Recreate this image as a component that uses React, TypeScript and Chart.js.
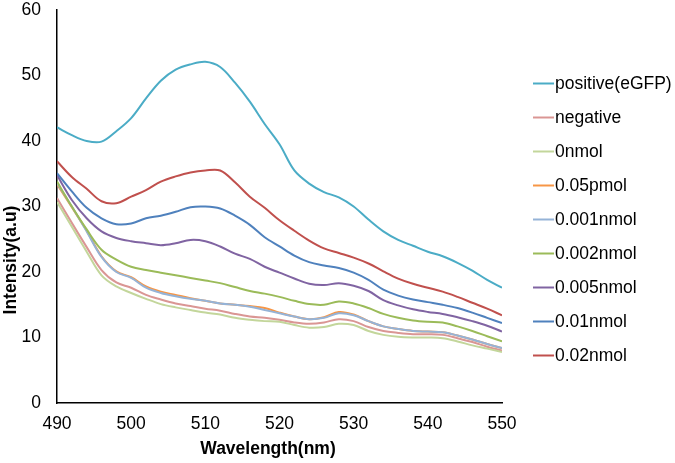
import React, { useEffect, useRef } from "react";
import { Chart, registerables } from "chart.js";

Chart.register(...registerables);

const wavelengths = [490, 492, 494, 496, 498, 500, 502, 504, 506, 508, 510, 512, 514, 516, 518, 520, 522, 524, 526, 528, 530, 532, 534, 536, 538, 540, 542, 544, 546, 548, 550];

const positive = [42.1, 40.9, 40.0, 39.9, 41.5, 43.5, 46.5, 49.2, 50.9, 51.7, 52.1, 51.3, 48.9, 46.0, 42.6, 39.5, 35.5, 33.5, 32.2, 31.4, 30.0, 28.0, 26.2, 24.9, 24.0, 23.1, 22.4, 21.4, 20.2, 18.8, 17.6];
const negative = [31.3, 27.5, 23.8, 20.3, 18.4, 17.6, 16.5, 15.8, 15.2, 14.8, 14.4, 14.1, 13.6, 13.2, 13.0, 12.7, 12.3, 12.1, 12.3, 12.8, 12.5, 11.6, 11.0, 10.7, 10.5, 10.5, 10.4, 9.9, 9.3, 8.6, 8.0];
const nmol0 = [30.7, 26.9, 23.1, 19.5, 17.8, 16.8, 15.9, 15.1, 14.6, 14.2, 13.8, 13.5, 13.0, 12.7, 12.5, 12.4, 11.9, 11.5, 11.6, 12.1, 11.9, 11.0, 10.4, 10.1, 10.0, 10.0, 9.9, 9.4, 8.8, 8.3, 7.8];
const pmol005 = [33.4, 29.9, 26.3, 22.4, 20.1, 19.2, 17.8, 17.0, 16.5, 16.0, 15.6, 15.2, 15.0, 14.8, 14.5, 13.8, 13.2, 12.8, 13.1, 13.9, 13.5, 12.5, 11.7, 11.3, 11.0, 10.9, 10.8, 10.3, 9.7, 9.0, 8.4];
const nmol0001 = [33.6, 30.0, 26.2, 22.3, 20.0, 19.1, 17.6, 16.8, 16.3, 15.9, 15.6, 15.2, 15.0, 14.7, 14.2, 13.7, 13.2, 12.8, 13.0, 13.7, 13.4, 12.5, 11.7, 11.3, 11.0, 10.9, 10.8, 10.3, 9.7, 9.0, 8.4];
const nmol0002 = [33.8, 30.0, 26.5, 23.4, 21.9, 20.8, 20.3, 19.9, 19.5, 19.1, 18.7, 18.3, 17.7, 17.1, 16.7, 16.2, 15.6, 15.1, 15.0, 15.5, 15.2, 14.5, 13.6, 13.0, 12.6, 12.4, 12.3, 11.7, 11.0, 10.2, 9.4];
const nmol0005 = [34.8, 31.0, 28.2, 26.2, 25.2, 24.7, 24.4, 24.1, 24.4, 24.9, 24.7, 23.9, 22.8, 22.0, 20.8, 19.9, 19.0, 18.2, 18.0, 18.3, 17.9, 17.1, 15.7, 14.9, 14.3, 13.9, 13.6, 13.1, 12.5, 11.8, 10.9];
const nmol001 = [35.1, 32.3, 29.8, 28.2, 27.3, 27.4, 28.2, 28.6, 29.2, 29.9, 30.0, 29.7, 28.6, 27.2, 25.3, 23.9, 22.5, 21.5, 21.0, 20.6, 19.9, 18.8, 17.3, 16.4, 15.8, 15.4, 15.0, 14.5, 13.8, 13.0, 12.2];
const nmol002 = [36.9, 34.5, 32.7, 30.8, 30.5, 31.5, 32.5, 33.8, 34.6, 35.2, 35.5, 35.5, 33.7, 31.5, 29.8, 27.9, 26.3, 24.8, 23.6, 22.9, 22.2, 21.3, 20.1, 19.0, 18.2, 17.6, 17.0, 16.2, 15.3, 14.4, 13.4];

const seriesLabels = ["positive(eGFP)", "negative", "0nmol", "0.05pmol", "0.001nmol", "0.002nmol", "0.005nmol", "0.01nmol", "0.02nmol"];
const seriesValues = [positive, negative, nmol0, pmol005, nmol0001, nmol0002, nmol0005, nmol001, nmol002];
const seriesColors = ["#4BACC6", "#DA9694", "#C3D69B", "#F79646", "#95B3D7", "#9BBB59", "#8064A2", "#4F81BD", "#C0504D"];

const xTitle = "Wavelength(nm)";
const yTitle = "Intensity(a.u)";

const FONT = "'Liberation Sans', Arial, sans-serif";

export default function App() {
  const ref = useRef<HTMLCanvasElement | null>(null);

  useEffect(() => {
    document.body.style.margin = "0";
    const canvas = ref.current;
    if (!canvas) return;

    const extras = {
      id: "extras",
      afterDraw(chart: any) {
        const ctx = chart.ctx;
        ctx.save();
        ctx.fillStyle = "#000";
        ctx.font = `bold 17.5px ${FONT}`;
        ctx.textAlign = "center";
        ctx.textBaseline = "middle";
        ctx.fillText(xTitle, 268, 449);
        ctx.save();
        ctx.translate(11, 260);
        ctx.rotate(-Math.PI / 2);
        ctx.fillText(yTitle, 0, 0);
        ctx.restore();
        ctx.font = `17.5px ${FONT}`;
        ctx.textAlign = "left";
        chart.data.datasets.forEach((ds: any, i: number) => {
          const y = 83.5 + i * 34;
          ctx.strokeStyle = ds.borderColor;
          ctx.lineWidth = 2;
          ctx.beginPath();
          ctx.moveTo(533, y);
          ctx.lineTo(554, y);
          ctx.stroke();
          ctx.fillStyle = "#000";
          ctx.fillText(ds.label, 555, y + 1);
        });
        ctx.restore();
      },
    };

    const zeroPad = (scale: any) => {
      scale.paddingLeft = 0;
      scale.paddingRight = 0;
      scale.paddingTop = 0;
      scale.paddingBottom = 0;
    };

    const chart = new Chart(canvas, {
      type: "line",
      data: {
        datasets: seriesLabels.map((label, i) => ({
          label,
          data: wavelengths.map((w, j) => ({ x: w, y: seriesValues[i][j] })),
          borderColor: seriesColors[i],
          backgroundColor: seriesColors[i],
          borderWidth: 2,
          pointRadius: 0,
          tension: 0.35,
          fill: false,
          order: seriesLabels.length - i,
        })),
      },
      options: {
        animation: false,
        responsive: false,
        maintainAspectRatio: false,
        layout: { padding: { left: 21, right: 173, top: 10, bottom: 30 } },
        plugins: {
          legend: { display: false },
          tooltip: { enabled: false },
          title: { display: false },
        },
        scales: {
          x: {
            type: "linear",
            min: 490,
            max: 550,
            afterFit: (scale: any) => {
              scale.height = 30;
              zeroPad(scale);
            },
            ticks: {
              stepSize: 10,
              color: "#000",
              font: { family: FONT, size: 17.5 },
              padding: 3,
              maxRotation: 0,
            },
            grid: { display: false },
            border: { display: true, color: "#000", width: 1.5 },
          },
          y: {
            min: 0,
            max: 60,
            afterFit: (scale: any) => {
              scale.width = 36;
              zeroPad(scale);
            },
            ticks: {
              stepSize: 10,
              color: "#000",
              font: { family: FONT, size: 17.5 },
              padding: 8,
            },
            grid: { display: false },
            border: { display: true, color: "#000", width: 1.5 },
          },
        },
      },
      plugins: [extras],
    });

    return () => chart.destroy();
  }, []);

  return (
    <div style={{ width: 675, height: 463 }}>
      <canvas ref={ref} width={675} height={463} style={{ width: 675, height: 463, display: "block" }} />
    </div>
  );
}
